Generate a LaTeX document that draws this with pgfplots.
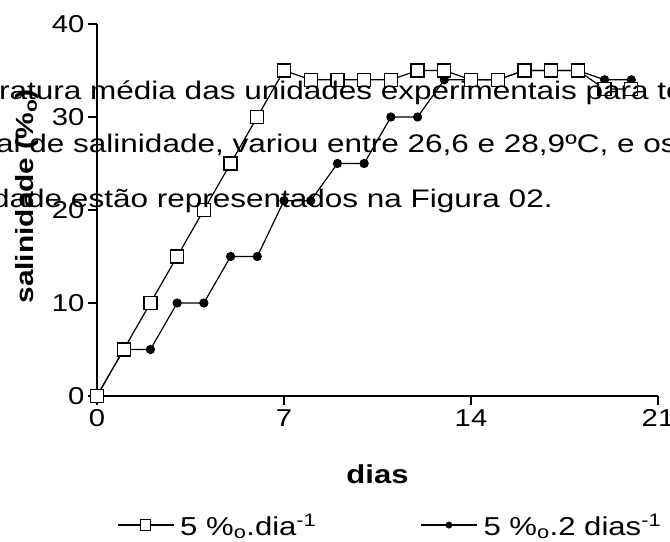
\documentclass[border=0pt]{standalone}
\usepackage{pgfplots}
\pgfplotsset{compat=1.18}
\usepackage{fontspec}
\setmainfont[FakeStretch=1.2]{Liberation Sans}
\newfontfamily\widefont[FakeStretch=1.24]{Liberation Sans}
\begin{document}
\begin{tikzpicture}[x=1bp,y=1bp]
\useasboundingbox (0,0) rectangle (670,542);
\clip (0,0) rectangle (670,542);
\begin{axis}[
  at={(97bp,146bp)}, anchor=south west,
  scale only axis, width=561bp, height=372bp,
  xmin=0, xmax=21, ymin=0, ymax=40,
  axis lines=left, axis line style={-, line width=1.4bp},
  xtick={0,7,14,21}, ytick={0,10,20,30,40},
  tick align=outside, major tick length=9bp,
  tick style={line width=1.4bp, black},
  every tick label/.append style={font=\fontsize{24.5}{24.5}\selectfont},
  /pgf/number format/assume math mode=true,
  xticklabel style={yshift=-1bp},
  yticklabel style={xshift=0bp},
  clip=false,
  xlabel={\textbf{dias}},
  xlabel style={at={(axis description cs:0.5,-0.234)}, anchor=base, font=\fontsize{26}{26}\selectfont},
  ylabel={\textbf{salinidade (\%\textsubscript{o})}},
  ylabel style={at={(axis description cs:-0.114,0.239)}, anchor=base west, font=\fontsize{25}{25}\selectfont},
  legend columns=2,
  legend style={draw=none, fill=none, at={(rel axis cs:0.03,-0.347)}, anchor=west,
    font=\fontsize{26}{26}\selectfont,
    /tikz/every odd column/.append style={column sep=4bp},
    /tikz/every even column/.append style={column sep=102bp}},
  legend image code/.code={\draw[#1, mark repeat=2, mark phase=2, every mark/.append style={scale=0.8}] plot coordinates {(0bp,0bp) (28bp,0bp) (56bp,0bp)};},
]
\addplot[black, line width=1.2bp, mark=*, mark size=4bp, forget plot] coordinates {
(0,0) (1,5) (2,5) (3,10) (4,10) (5,15) (6,15) (7,21) (8,21) (9,25) (10,25)
(11,30) (12,30) (13,34) (14,34) (15,34) (16,35) (17,35) (18,35) (19,34) (20,34)};
\addplot[black, line width=1.2bp, mark=square*, mark size=6.5bp, mark options={fill=white, line width=1.2bp}] coordinates {
(0,0) (1,5) (2,10) (3,15) (4,20) (5,25) (6,30) (7,35) (8,34) (9,34) (10,34)
(11,34) (12,35) (13,35) (14,34) (15,34) (16,35) (17,35) (18,35) (19,33) (20,33)};
\addlegendentry{5 \%\textsubscript{o}.dia\textsuperscript{-1}}
\addlegendimage{black, line width=1.2bp, mark=*, mark size=3.5bp}
\addlegendentry{5 \%\textsubscript{o}.2 dias\textsuperscript{-1}}
\end{axis}
\begin{scope}[font=\widefont\fontsize{25.5}{25.5}\selectfont]
\node[anchor=base west, inner sep=0pt] at (-1,442) {ratura média das unidades experimentais para to};
\node[anchor=base west, inner sep=0pt] at (-4,389) {al de salinidade, variou entre 26,6 e 28,9ºC, e os};
\node[anchor=base west, inner sep=0pt] at (-8,334) {dade estão representados na Figura 02.};
\end{scope}
\end{tikzpicture}
\end{document}
